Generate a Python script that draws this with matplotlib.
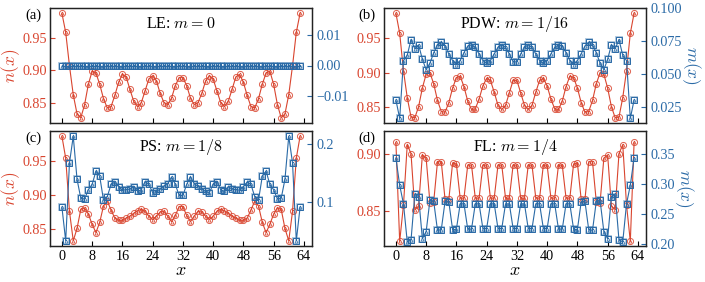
import numpy as np
import matplotlib
matplotlib.use("Agg")
import matplotlib.pyplot as plt

plt.rcParams['font.family'] = 'serif'
plt.rcParams['font.serif'] = ['Liberation Serif', 'DejaVu Serif']
plt.rcParams['mathtext.fontset'] = 'cm'

red = '#d9452f'
blue = '#2a6aa6'

x = np.arange(64)

# (a) LE: m = 0
n_a = [0.987, 0.958, 0.907, 0.863, 0.834, 0.828, 0.848, 0.879, 0.899, 0.896, 0.879, 0.857, 0.843, 0.845, 0.862, 0.882,
       0.894, 0.890, 0.871, 0.853, 0.845, 0.851, 0.869, 0.887, 0.892, 0.884, 0.865, 0.851, 0.848, 0.858, 0.877, 0.889,
       0.889, 0.877, 0.858, 0.848, 0.851, 0.865, 0.884, 0.892, 0.887, 0.869, 0.851, 0.845, 0.853, 0.871, 0.890, 0.894,
       0.882, 0.862, 0.845, 0.843, 0.857, 0.879, 0.896, 0.899, 0.879, 0.848, 0.828, 0.834, 0.863, 0.907, 0.958, 0.987]
m_a = [0.0] * 64

# (b) PDW: m = 1/16
n_b = [0.986, 0.957, 0.903, 0.864, 0.836, 0.835, 0.851, 0.878, 0.898, 0.900, 0.884, 0.860, 0.844, 0.843, 0.857, 0.878,
       0.893, 0.895, 0.880, 0.859, 0.847, 0.848, 0.862, 0.881, 0.892, 0.889, 0.872, 0.853, 0.847, 0.853, 0.871, 0.889,
       0.889, 0.871, 0.853, 0.847, 0.853, 0.872, 0.889, 0.892, 0.881, 0.862, 0.848, 0.847, 0.859, 0.880, 0.895, 0.893,
       0.878, 0.857, 0.843, 0.844, 0.860, 0.884, 0.900, 0.898, 0.878, 0.851, 0.835, 0.836, 0.864, 0.903, 0.957, 0.986]
m_b = [0.030, 0.016, 0.060, 0.064, 0.076, 0.069, 0.072, 0.061, 0.053, 0.058, 0.066, 0.072, 0.074, 0.071, 0.065, 0.060,
       0.057, 0.060, 0.066, 0.071, 0.072, 0.070, 0.065, 0.060, 0.058, 0.060, 0.065, 0.070, 0.072, 0.070, 0.065, 0.059,
       0.059, 0.065, 0.070, 0.072, 0.070, 0.065, 0.060, 0.058, 0.060, 0.065, 0.070, 0.072, 0.071, 0.066, 0.060, 0.057,
       0.060, 0.065, 0.071, 0.074, 0.072, 0.066, 0.058, 0.053, 0.061, 0.072, 0.069, 0.076, 0.064, 0.060, 0.016, 0.030]

# (c) PS: m = 1/8
n_c = [0.986, 0.954, 0.876, 0.833, 0.851, 0.879, 0.881, 0.872, 0.857, 0.845, 0.860, 0.884, 0.891, 0.878, 0.866, 0.863,
       0.863, 0.866, 0.869, 0.873, 0.877, 0.879, 0.876, 0.869, 0.864, 0.869, 0.875, 0.876, 0.869, 0.861, 0.870, 0.883,
       0.883, 0.870, 0.861, 0.869, 0.876, 0.875, 0.869, 0.864, 0.869, 0.876, 0.879, 0.877, 0.873, 0.869, 0.866, 0.863,
       0.863, 0.866, 0.878, 0.891, 0.884, 0.860, 0.845, 0.857, 0.872, 0.881, 0.879, 0.851, 0.833, 0.876, 0.954, 0.986]
m_c = [0.092, 0.034, 0.168, 0.214, 0.140, 0.107, 0.106, 0.122, 0.131, 0.154, 0.145, 0.104, 0.110, 0.131, 0.135, 0.127,
       0.121, 0.122, 0.123, 0.127, 0.119, 0.122, 0.136, 0.131, 0.117, 0.119, 0.123, 0.128, 0.132, 0.144, 0.131, 0.112,
       0.112, 0.131, 0.144, 0.132, 0.128, 0.123, 0.119, 0.117, 0.131, 0.136, 0.122, 0.119, 0.127, 0.123, 0.122, 0.121,
       0.127, 0.135, 0.131, 0.110, 0.104, 0.145, 0.154, 0.131, 0.122, 0.106, 0.107, 0.140, 0.214, 0.168, 0.034, 0.092]

# (d) FL: m = 1/4
n_d = [0.910, 0.823, 0.855, 0.908, 0.900, 0.851, 0.854, 0.899, 0.896, 0.857, 0.858, 0.893, 0.893, 0.860, 0.860, 0.892,
       0.891, 0.861, 0.861, 0.890, 0.890, 0.861, 0.861, 0.890, 0.890, 0.861, 0.861, 0.890, 0.890, 0.861, 0.861, 0.890,
       0.890, 0.861, 0.861, 0.890, 0.890, 0.861, 0.861, 0.890, 0.890, 0.861, 0.861, 0.890, 0.890, 0.861, 0.861, 0.891,
       0.892, 0.860, 0.860, 0.893, 0.893, 0.858, 0.857, 0.896, 0.899, 0.854, 0.851, 0.900, 0.908, 0.855, 0.823, 0.910]
m_d = [0.343, 0.298, 0.267, 0.204, 0.207, 0.283, 0.279, 0.209, 0.221, 0.273, 0.271, 0.223, 0.224, 0.271, 0.270, 0.224,
       0.225, 0.267, 0.267, 0.225, 0.225, 0.267, 0.267, 0.226, 0.226, 0.267, 0.267, 0.226, 0.226, 0.267, 0.267, 0.226,
       0.226, 0.267, 0.267, 0.226, 0.226, 0.267, 0.267, 0.226, 0.226, 0.267, 0.267, 0.225, 0.225, 0.267, 0.267, 0.225,
       0.224, 0.270, 0.271, 0.224, 0.223, 0.271, 0.273, 0.221, 0.209, 0.279, 0.283, 0.207, 0.204, 0.267, 0.298, 0.343]

titles = ['LE: $m=0$', 'PDW: $m=1/16$', 'PS: $m=1/8$', 'FL: $m=1/4$']
letters = ['(a)', '(b)', '(c)', '(d)']
n_list = [n_a, n_b, n_c, n_d]
m_list = [m_a, m_b, m_c, m_d]
n_ticks = [[0.85, 0.90, 0.95], [0.85, 0.90, 0.95], [0.85, 0.90, 0.95], [0.85, 0.90]]
m_ticks = [[-0.01, 0.0, 0.01], [0.025, 0.05, 0.075, 0.1], [0.1, 0.2], [0.20, 0.25, 0.30, 0.35]]
n_lims = [None, None, None, (0.819, 0.920)]
m_lims = [(-0.019, 0.019), (0.0125, 0.100), None, (0.197, 0.388)]

W, H = 705, 282
fig = plt.figure(figsize=(7.05, 2.82), dpi=100)
boxes = [(50, 8), (384, 8), (50, 131), (384, 131)]  # left, top in px
aw, ah = 262, 115

for k in range(4):
    l, t = boxes[k]
    ax = fig.add_axes([l / W, 1 - (t + ah) / H, aw / W, ah / H])
    ax2 = ax.twinx()

    ax.plot(x, n_list[k], '-', color=red, lw=0.8, marker='^', ms=2.2, mfc='none', mew=0.5)
    ax.plot(x, n_list[k], 'o', ms=4.4, mfc='none', mec=red, mew=0.7, alpha=0.85)

    ax2.plot(x, m_list[k], 's', ms=4.6, mfc='none', mec=blue, mew=1.3, alpha=0.4)
    ax2.plot(x, m_list[k], '-', color=blue, lw=0.8, marker='^', ms=2.2, mfc='none', mew=0.5)
    ax2.plot(x, m_list[k], 's', ms=4.0, mfc='none', mec=blue, mew=0.7)

    ax.set_yticks(n_ticks[k])
    ax2.set_yticks(m_ticks[k])
    if n_lims[k] is not None:
        ax.set_ylim(*n_lims[k])
    if m_lims[k] is not None:
        ax2.set_ylim(*m_lims[k])
    ax.set_xticks(range(0, 65, 8))

    ax.tick_params(axis='y', direction='in', length=3.5, width=0.8, colors=red, labelsize=10.2, pad=2.5)
    ax.tick_params(axis='x', direction='in', length=3.5, width=0.8, labelsize=10.2, pad=3)
    ax2.tick_params(axis='y', direction='in', length=3.5, width=0.8, colors=blue, labelsize=10.2, pad=3)
    for a in (ax, ax2):
        for s in a.spines.values():
            s.set_color('#222222')
            s.set_linewidth(0.9)

    if k < 2:
        ax.tick_params(axis='x', labelbottom=False)
    else:
        ax.set_xlabel('$x$', fontsize=13, labelpad=-1)
    if k % 2 == 0:
        fig.text(11 / W, 1 - (t + ah / 2) / H, '$n(x)$', fontsize=12.5, color=red,
                 rotation=90, ha='center', va='center')
    else:
        ax2.set_ylabel('$m(x)$', fontsize=12.5, color=blue, rotation=270, labelpad=15)

    ax.text(0.5, 0.865, titles[k], transform=ax.transAxes, ha='center', va='center', fontsize=11.5)
    lx = 33 if k % 2 == 0 else 367
    fig.text(lx / W, 1 - (t + 7) / H, letters[k], ha='center', va='center', fontsize=10.5)

fig.savefig('out.png', dpi=100)
